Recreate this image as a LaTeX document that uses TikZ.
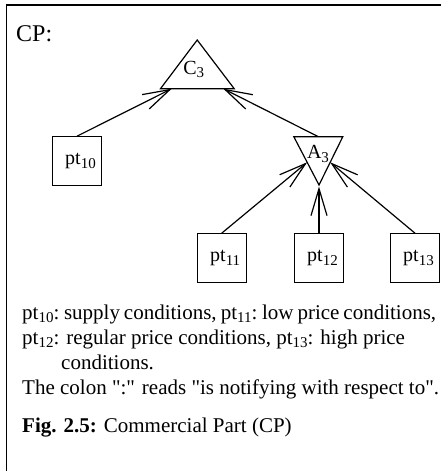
\documentclass[tikz,border=0pt]{standalone}
\usepackage{fontspec}
\setmainfont{Liberation Serif}
\usetikzlibrary{arrows.meta,calc}
\newcommand\subs[1]{\raisebox{-3.8pt}{\fontsize{15}{15}\selectfont #1}}
\newcommand\bodyfont{\fontsize{21}{25}\selectfont}
\newcommand\tightline{\spaceskip=0.25em plus 0.1em minus 0.2em\xspaceskip=0.3em plus 0.1em minus 0.25em\relax}
\begin{document}
\begin{tikzpicture}[x=1pt,y=-1pt,
  frame/.style={line width=1.2pt},
  leaf/.style={draw, line width=1.2pt, minimum size=49pt, inner sep=0pt, font=\fontsize{20}{24}\selectfont},
  tri/.style={line width=1.2pt, line join=miter},
  lbl/.style={inner sep=0pt, anchor=base, font=\fontsize{20}{24}\selectfont},
  conn/.style={line width=1.2pt, -{Straight Barb[length=27pt,width=16pt,line width=1.2pt]}},
  body/.style={inner sep=0pt, anchor=base west, font=\bodyfont},
]
\useasboundingbox (0,0) rectangle (441,471);
\draw[frame] (441,5) -- (6.5,5) -- (6.5,471);

% C3 triangle
\coordinate (c3a) at (197.2,40);
\coordinate (c3l) at (160.5,88.7);
\coordinate (c3r) at (234.2,88.7);
\draw[tri] (c3l) -- (c3a) -- (c3r) -- cycle;
\node[lbl] (c3) at (193.7,74) {C\subs{3}};

% A3 triangle
\coordinate (a3l) at (293.8,136.7);
\coordinate (a3r) at (342.8,136.7);
\coordinate (a3b) at (319,185);
\draw[tri] (a3l) -- (a3r) -- (a3b) -- cycle;
\node[lbl] (a3) at (318,158.3) {A\subs{3}};

\coordinate (c3in1) at ($(c3l)!0.152!(c3r)$);
\coordinate (c3in2) at ($(c3l)!0.852!(c3r)$);
\coordinate (a3top) at ($(a3l)!0.5!(a3r)$);
\coordinate (a3inl) at ($(a3l)!0.53!(a3b)$);
\coordinate (a3inr) at ($(a3r)!0.53!(a3b)$);
\coordinate (a3bin) at (319,186.5);

% leaves
\node[leaf] (p10) at (77,161.3) {\hspace*{7pt}pt\subs{10}};
\node[leaf] (p11) at (221.7,258.3) {\hspace*{7pt}pt\subs{11}};
\node[leaf] (p12) at (319,258.3) {\hspace*{7pt}pt\subs{12}};
\node[leaf] (p13) at (415,258.3) {\hspace*{7pt}pt\subs{13}};

% connectors
\draw[conn] (p10.north) -- (c3in1);
\draw[conn] (a3top) -- (c3in2);
\draw[conn] (p11.north) -- (a3inl);
\draw[conn] (p12.north) -- (a3bin);
\draw[conn] (p13.north) -- (a3inr);

% texts
\node[body, font=\fontsize{24}{28}\selectfont] (cp) at (16,41) {CP:};
\node[body] (l1) at (22,319) {\tightline\hbox to 414pt{pt\subs{10}: supply conditions, pt\subs{11}: low price conditions,}};
\node[body] (l2) at (22,344) {pt\subs{12}: regular price conditions, pt\subs{13}: high price};
\node[body] (l3) at (61,369) {conditions.};
\node[body] (l4) at (22,394.3) {The colon \textquotedbl:\textquotedbl{} reads \textquotedbl is notifying with respect to\textquotedbl.};
\node[body] (fig) at (22,432.7) {\textbf{Fig. 2.5:} Commercial Part (CP)};
\end{tikzpicture}
\end{document}
